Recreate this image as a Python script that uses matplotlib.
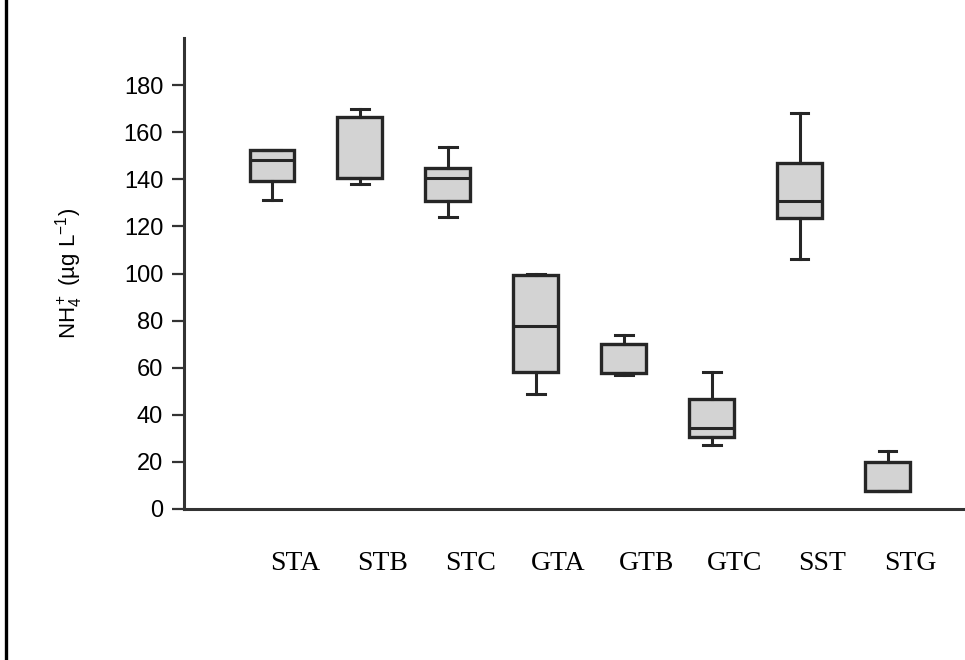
import matplotlib
matplotlib.use("Agg")
import matplotlib.pyplot as plt
from matplotlib.lines import Line2D

# box statistics (ug/L)
sites = ["STA", "STB", "STC", "GTA", "GTB", "GTC", "SST", "STG"]
whislo = [131.3, 138.0, 124.1, 49.0, 56.8, 27.1, 106.2, 7.5]
q1 = [139.2, 140.7, 130.6, 58.2, 57.7, 30.6, 123.4, 7.8]
med = [148.2, 140.7, 140.5, 77.9, 70.2, 34.6, 130.9, 7.8]
q3 = [152.3, 166.4, 144.6, 99.4, 70.2, 46.9, 147.1, 20.0]
whishi = [152.5, 170.0, 153.6, 99.6, 74.0, 58.2, 168.3, 24.7]
yticks = [0, 20, 40, 60, 80, 100, 120, 140, 160, 180]

stats = []
for i in range(len(sites)):
    stats.append({"label": sites[i], "whislo": whislo[i], "q1": q1[i], "med": med[i],
                  "q3": q3[i], "whishi": whishi[i], "fliers": []})

plt.rcParams["mathtext.fontset"] = "custom"
plt.rcParams["mathtext.rm"] = "Liberation Sans"
plt.rcParams["mathtext.it"] = "Liberation Sans"

fig = plt.figure(figsize=(9.65, 6.6), dpi=100)
ax = fig.add_axes([0.1907, 0.2288, 0.8093, 0.7136])

pos = list(range(1, len(sites) + 1))
dark = "#262626"
ax.bxp(stats, positions=pos, widths=0.51, patch_artist=True, showfliers=False,
       capwidths=0.2,
       boxprops=dict(facecolor="#d3d3d3", edgecolor=dark, linewidth=2.4),
       medianprops=dict(color=dark, linewidth=2.2),
       whiskerprops=dict(color=dark, linewidth=2.2),
       capprops=dict(color=dark, linewidth=2.2))

ax.set_xlim(0, 8.88)
ax.set_ylim(0, 200)
ax.set_yticks(yticks)
ax.tick_params(axis="y", length=9, width=1.6, color="#333333", pad=6, labelsize=17)
for t in ax.get_yticklabels():
    t.set_family("Liberation Sans")

ax.set_xticks([p + 0.26 for p in pos])
ax.set_xticklabels(sites, family="Liberation Serif", fontsize=20)
ax.tick_params(axis="x", length=0, pad=30)

ax.set_ylabel("NH$_4^+$ (µg L$^{-1}$)", fontsize=16, family="Liberation Sans", labelpad=28)

for s in ["top", "right"]:
    ax.spines[s].set_visible(False)
for s in ["left", "bottom"]:
    ax.spines[s].set_linewidth(2.2)
    ax.spines[s].set_color("#333333")

# vertical rule at left edge of the page
fig.add_artist(Line2D([0.0065, 0.0065], [0, 1], transform=fig.transFigure, color="black", linewidth=2.4))

fig.savefig("out.png", dpi=100)
